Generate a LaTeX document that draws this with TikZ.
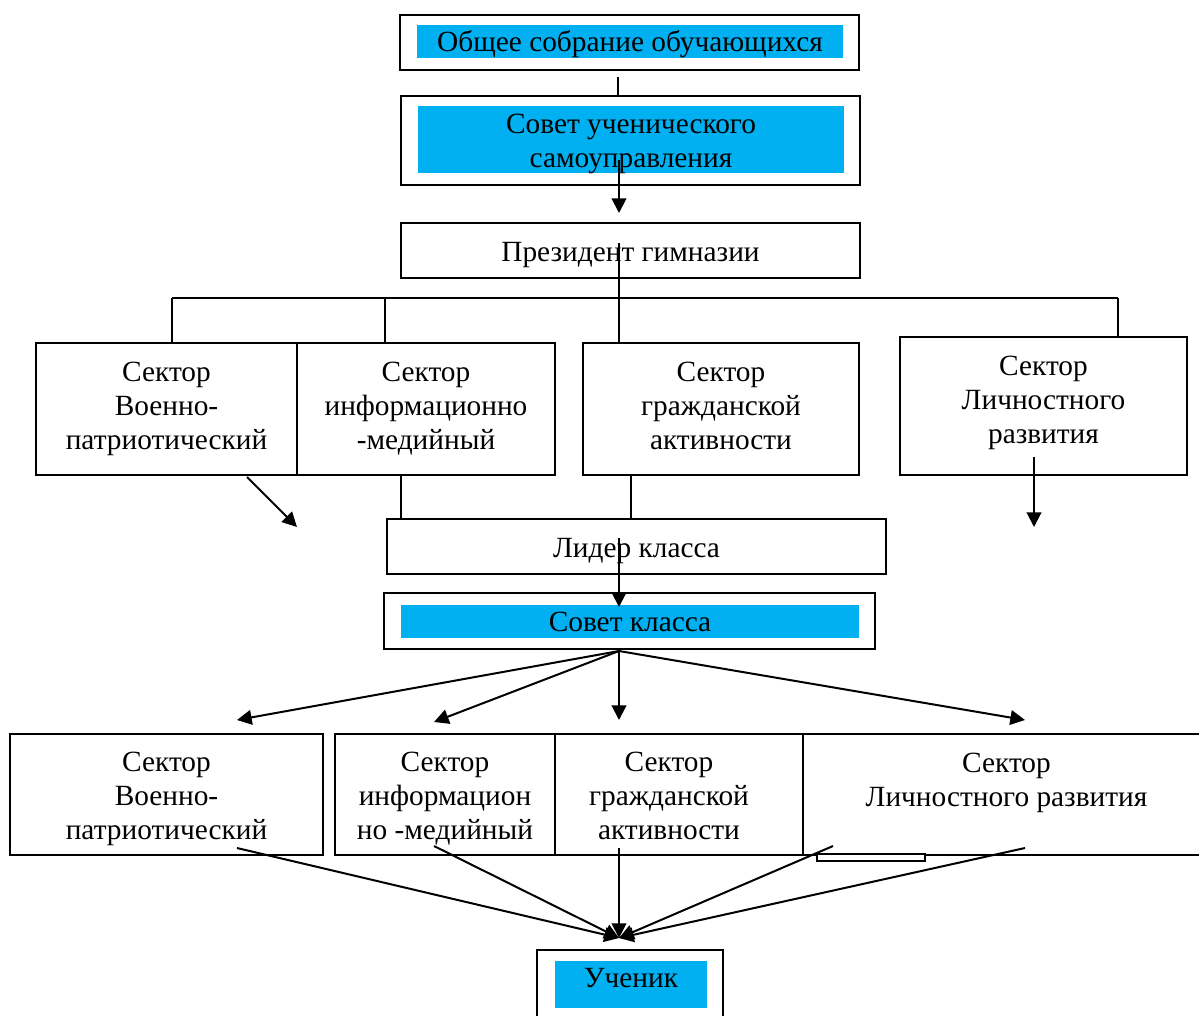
\documentclass[tikz,border=0pt]{standalone}
\usepackage{fontspec}
\setmainfont{Liberation Serif}
\usetikzlibrary{arrows.meta}
\definecolor{sblue}{HTML}{00B0F0}

\begin{document}
\begin{tikzpicture}[x=0.75pt, y=-0.75pt,
        box/.style={draw, line width=1.5pt, fill=white, inner sep=0pt},
        bluebar/.style={fill=sblue, inner sep=0pt},
        txt/.style={inner sep=0pt, align=center, font=\fontsize{22}{25.5}\selectfont},
        ln/.style={line width=1.5pt},
        arr/.style={line width=1.5pt, -{Triangle[length=11pt, width=11pt]}}]
        \useasboundingbox (0,0) rectangle (1199,1015);

        % upper part
        \node [box, minimum width=344.25pt, minimum height=41.25pt]  (sobr)     at (629.5,42.5)  {};   %
        \node [bluebar, minimum width=319.5pt, minimum height=24.75pt] (sobrbar) at (630,41.5)    {};   %
        \node [txt] (sobrtxt)  at (630,44)      {Общее собрание обучающихся};
        \node [box, minimum width=344.25pt, minimum height=66.75pt]  (sovet)    at (630.5,140.5) {};   %
        \node [bluebar, minimum width=319.5pt, minimum height=50.25pt] (sovetbar) at (631,139.5) {};   %
        \node [txt] (sovettxt) at (631,143.5)   {Совет ученического\\самоуправления};
        \node [box, minimum width=344.25pt, minimum height=41.25pt]  (prez)     at (630.5,250.5) {};   %
        \node [txt] (preztxt)  at (630.5,255.5) {Президент гимназии};

        % sectors, first row
        \node [box, minimum width=195.75pt, minimum height=99pt]    (secA) at (166.5,409)  {};         %
        \node [box, minimum width=193.5pt,  minimum height=99pt]    (secB) at (426,409)    {};         %
        \node [box, minimum width=207pt,    minimum height=99pt]    (secC) at (721,409)    {};         %
        \node [box, minimum width=215.25pt, minimum height=103.5pt] (secD) at (1043.5,406) {};         %
        \node [txt] (secAtxt) at (166.5,409)  {Сектор\\Военно-\\патриотический};
        \node [txt] (secBtxt) at (426,409)    {Сектор\\информационно\\-медийный};
        \node [txt] (secCtxt) at (721,406)    {Сектор\\гражданской\\активности};
        \node [txt] (secDtxt) at (1043.5,403) {Сектор\\Личностного\\развития};

        \node [box, minimum width=374.25pt, minimum height=41.25pt]  (lider)   at (636.5,546.5) {};   %
        \node [txt] (lidertxt) at (636.5,551.5) {Лидер класса};
        \node [box, minimum width=368.25pt, minimum height=42pt]     (sovk)    at (629.5,621)   {};   %
        \node [bluebar, minimum width=343.5pt, minimum height=24.75pt] (sovkbar) at (630,621.5) {};   %
        \node [txt] (sovktxt)  at (630,621.5)   {Совет класса};

        % sectors, second row
        \node [box, minimum width=234.75pt, minimum height=90.75pt] (secE)  at (166.5,794.5)  {};      %
        \node [box, minimum width=165pt,    minimum height=90.75pt] (secF)  at (445,794.5)    {};      %
        \node [box, minimum width=186pt,    minimum height=90.75pt] (secG)  at (679,794.5)    {};      %
        \node [box, minimum width=305.25pt, minimum height=90.75pt] (secH)  at (1006.5,794.5) {};      %
        \node [box, minimum width=81pt,     minimum height=5.25pt]  (hfoot) at (871,857.5)    {};      %
        \node [txt] (secEtxt) at (166.5,798.5)  {Сектор\\Военно-\\патриотический};
        \node [txt] (secFtxt) at (445,798.5)    {Сектор\\информацион\\но -медийный};
        \node [txt] (secGtxt) at (669,796)      {Сектор\\гражданской\\активности};
        \node [txt] (secHtxt) at (1006.5,801.5) {Сектор\\Личностного развития\\\strut};

        \node [box, minimum width=139.5pt, minimum height=60pt]      (ucen)    at (630,990)     {};   %
        \node [bluebar, minimum width=114pt, minimum height=35.25pt] (ucenbar) at (631,984.5)   {};   %
        \node [txt] (ucentxt)  at (631,978.5)   {Ученик};

        % links, upper part
        \coordinate (sobrout) at (618,77);
        \draw [ln]  (sobrout) -- (sobrout |- sovet.north);                %
        \coordinate (sovin)   at (619,160);
        \coordinate (prezabv) at (619,213);
        \draw [arr] (sovin) -- (prezabv);                                 %
        \coordinate (prezin)  at (619,243);
        \coordinate (busL)    at (172,298);
        \coordinate (busB)    at (385,298);
        \coordinate (busC)    at (619,298);
        \coordinate (busR)    at (1118,298);
        \draw [ln]  (prezin) -- (busC);                                   %
        \draw [ln]  (busL) -- (busR);                                     %bus
        \draw [ln]  (busL) -- (busL |- secA.north);                       %
        \draw [ln]  (busB) -- (busB |- secB.north);                       %
        \draw [ln]  (busC) -- (busC |- secC.north);                       %
        \draw [ln]  (busR) -- (busR |- secD.north);                       %

        % links, middle
        \coordinate (aout)  at (247,477);
        \coordinate (afree) at (297,527);
        \draw [arr] (aout) -- (afree);                                    %
        \coordinate (bl) at (401,475);
        \coordinate (cl) at (631,475);
        \draw [ln]  (bl) -- (bl |- lider.north);                          %
        \draw [ln]  (cl) -- (cl |- lider.north);                          %
        \coordinate (dout)  at (1034,457);
        \coordinate (dfree) at (1034,527);
        \draw [arr] (dout) -- (dfree);                                    %
        \coordinate (lidin)  at (619,538);
        \coordinate (sovkin) at (619,607);
        \draw [arr] (lidin) -- (sovkin);                                  %

        % fan out of Совет класса
        \coordinate (fan) at (619,651);
        \coordinate (e1) at (237,720);
        \coordinate (f1) at (434,722);
        \coordinate (g1) at (619,720);
        \coordinate (h1) at (1025,720);
        \foreach \t in {e1,f1,g1,h1}
            \draw [arr] (fan) -- (\t);                                    %

        % fan in to Ученик
        \coordinate (uc) at (619,938);
        \coordinate (e2) at (237,848);
        \coordinate (f2) at (434,846);
        \coordinate (g2) at (619,848);
        \coordinate (h2) at (833,846);
        \coordinate (h3) at (1025,848);
        \foreach \s in {e2,f2,g2,h2,h3}
            \draw [arr] (\s) -- (uc);                                     %
\end{tikzpicture}
\end{document}
